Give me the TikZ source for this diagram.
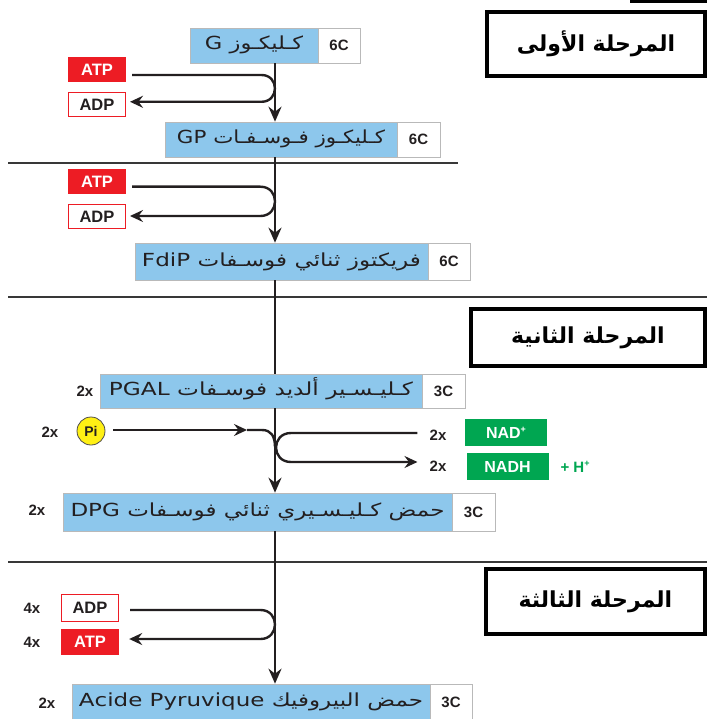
\documentclass[tikz,border=0pt]{standalone}
\usepackage{fontspec}
\usepackage{graphicx}
\setmainfont{Liberation Sans}
\newfontfamily\arabicfont[Script=Arabic]{DejaVu Sans}
\TeXXeTstate=1
\usetikzlibrary{arrows.meta,calc}
\definecolor{boxblue}{RGB}{141,199,236}
\definecolor{atpred}{RGB}{237,28,36}
\definecolor{nadgreen}{RGB}{0,166,81}
\definecolor{piyellow}{RGB}{255,240,20}
\definecolor{txt}{RGB}{35,31,32}
\newcommand{\sps}[1]{\raisebox{6pt}{\fontsize{9}{9}\selectfont #1}}
\newcommand{\fitto}[2]{\resizebox{#1}{\height}{#2}}
\tikzset{
  bluebox/.style={draw=gray!55, line width=0.6pt, fill=boxblue, inner sep=0pt, text=txt,
    text height=13pt, text depth=4pt, font=\arabicfont\fontsize{18}{18}\selectfont},
  cbox/.style={draw=gray!55, line width=0.6pt, fill=white, inner sep=0pt, text=txt,
    font=\fontsize{15}{15}\selectfont\bfseries},
  atpbox/.style={fill=atpred, text=white, inner sep=0pt, minimum width=58pt, minimum height=25pt,
    font=\fontsize{16.5}{16.5}\selectfont\bfseries},
  adpbox/.style={draw=atpred, line width=1pt, fill=white, text=txt, inner sep=0pt,
    minimum width=57pt, minimum height=24pt, font=\fontsize{16.5}{16.5}\selectfont\bfseries},
  nadbox/.style={fill=nadgreen, text=white, inner sep=0pt, minimum width=82pt, minimum height=27pt,
    text height=12pt, text depth=0pt, font=\fontsize{16}{16}\selectfont\bfseries},
  phasebox/.style={draw=black, line width=4pt, fill=white, inner sep=0pt,
    font=\arabicfont\bfseries\fontsize{22}{22}\selectfont},
  mult/.style={inner sep=0pt, text=txt, font=\fontsize{15}{15}\selectfont\bfseries},
  flow/.style={line width=2.4pt, draw=txt},
  arrowend/.style={-{Stealth[length=15pt,width=13pt,inset=5pt]}},
  sidearrow/.style={-{Stealth[length=13pt,width=12pt,inset=4.5pt]}},
  hsep/.style={line width=2.4pt, draw=black!78},
}
\begin{document}
\begin{tikzpicture}[x=1pt,y=-1pt]
\useasboundingbox (0,0) rectangle (707,719);
\fill[black] (630,0) rectangle (707,3.5);

% section separators
\coordinate (h1a) at (8,163);   \coordinate (h1b) at (458,163);
\coordinate (h2a) at (8,297);   \coordinate (h2b) at (707,297);
\coordinate (h3a) at (8,562);   \coordinate (h3b) at (707,562);
\draw[hsep] (h1a) -- (h1b);
\draw[hsep] (h2a) -- (h2b);
\draw[hsep] (h3a) -- (h3b);

% phase boxes
\node[phasebox, minimum width=218pt, minimum height=64pt] (p1) at (596,44)
  {\beginR المرحلة الأولى\endR};
\node[phasebox, minimum width=234pt, minimum height=57pt] (p2) at (588,337.5)
  {\beginR المرحلة الثانية\endR};
\node[phasebox, minimum width=219pt, minimum height=65pt] (p3) at (595.5,601.5)
  {\beginR المرحلة الثالثة\endR};

% spine
\coordinate (sp) at (275,0);

% molecules
\node[bluebox, minimum width=128pt, minimum height=35pt] (g) at (254,45.5)
  {\fitto{98pt}{\beginR كـليكـوز G\endR}};
\node[cbox, minimum width=42pt, minimum height=35pt] (gc) at (339,45.5) {6C};

\node[bluebox, minimum width=232pt, minimum height=35pt] (gp) at (281,139.5)
  {\fitto{208pt}{\beginR كـليكـوز فـوسـفـات GP\endR}};
\node[cbox, minimum width=43pt, minimum height=35pt] (gpc) at (418.5,139.5) {6C};

\node[bluebox, minimum width=293pt, minimum height=37pt] (fd) at (281.5,261.5)
  {\fitto{279pt}{\beginR فريكتوز ثنائي فوسـفات FdiP\endR}};
\node[cbox, minimum width=42pt, minimum height=37pt] (fdc) at (449,261.5) {6C};

\node[bluebox, minimum width=322pt, minimum height=34pt] (pg) at (261,391)
  {\fitto{304pt}{\beginR كـليـسـير ألديد فوسـفات PGAL\endR}};
\node[cbox, minimum width=43pt, minimum height=34pt] (pgc) at (443.5,391) {3C};
\node[mult] (pgx) at (85,391) {2x};

\node[bluebox, minimum width=389pt, minimum height=38pt] (dp) at (257.5,512)
  {\fitto{374pt}{\beginR حمض كـليـسـيري ثنائي فوسـفات DPG\endR}};
\node[cbox, minimum width=43pt, minimum height=38pt] (dpc) at (473.5,512) {3C};
\node[mult] (dpx) at (37,510) {2x};

\node[bluebox, minimum width=358pt, minimum height=36pt] (py) at (251,702)
  {\fitto{344pt}{\beginR حمض البيروفيك \beginL Acide Pyruvique\endL\endR}};
\node[cbox, minimum width=42pt, minimum height=36pt] (pyc) at (451,702) {3C};
\node[mult] (pyx) at (47,703) {2x};

% spine arrows
\draw[flow, arrowend] (g.south -| sp) -- (gp.north -| sp);
\draw[flow, arrowend] (gp.south -| sp) -- (fd.north -| sp);
\draw[flow] (fd.south -| sp) -- (pg.north -| sp);
\draw[flow, arrowend] (pg.south -| sp) -- (dp.north -| sp);
\draw[flow, arrowend] (dp.south -| sp) -- (py.north -| sp);

% ATP / ADP step 1
\node[atpbox] (atp1) at (97,69.5) {ATP};
\node[adpbox] (adp1) at (97,104.5) {ADP};
\draw[flow, sidearrow] ([shift={(6,5.5)}]atp1.east) -- (261.5,75)
  .. controls (279.4,75) and (279.4,101.8) .. (261.5,101.8) -- ([shift={(4,-2.7)}]adp1.east);

% ATP / ADP step 2
\node[atpbox] (atp2) at (97,181.5) {ATP};
\node[adpbox] (adp2) at (97,216.5) {ADP};
\draw[flow, sidearrow] ([shift={(6,5.2)}]atp2.east) -- (260.4,186.7)
  .. controls (279.9,186.7) and (279.9,216) .. (260.4,216) -- ([shift={(4,-0.5)}]adp2.east);

% Pi and NAD
\node[mult] (pix) at (50,432) {2x};
\node[circle, draw=txt!80, line width=0.8pt, fill=piyellow, minimum size=28pt, inner sep=0pt,
  font=\fontsize{14}{14}\selectfont\bfseries, text=txt] (pi) at (91,431) {Pi};
\coordinate (pimid) at (247,430);
\draw[flow, sidearrow] ([xshift=8pt]pi.east |- pimid) -- (pimid);
\draw[flow] (pimid) -- (262,430) .. controls (271,430) and (275,436) .. (275,447);

\node[mult] (nx1) at (438,435) {2x};
\node[mult] (nx2) at (438,466) {2x};
\node[nadbox] (nad) at (506,432.5) {NAD\sps{+}};
\node[nadbox] (nadh) at (507.5,466.5) {NADH};
\node[inner sep=0pt, text=nadgreen, font=\fontsize{15}{15}\selectfont\bfseries] (hp) at (575,467) {+ H\sps{+}};
\draw[flow, sidearrow] ([xshift=-12pt]nx1.west |- 0,433) -- (291,433)
  .. controls (271,433) and (271,462) .. (291,462) -- ([xshift=-12pt]nx2.west |- 0,462);

% ADP / ATP step 3
\node[mult] (ax1) at (32,608) {4x};
\node[mult] (ax2) at (32,642) {4x};
\node[adpbox, minimum width=57pt, minimum height=27pt] (adp3) at (90,608) {ADP};
\node[atpbox, minimum height=26pt] (atp3) at (90,642) {ATP};
\draw[flow, sidearrow] ([shift={(11,2)}]adp3.east) -- (260.5,610)
  .. controls (279.8,610) and (279.8,639) .. (260.5,639) -- ([shift={(10,-3)}]atp3.east);
\end{tikzpicture}
\end{document}
